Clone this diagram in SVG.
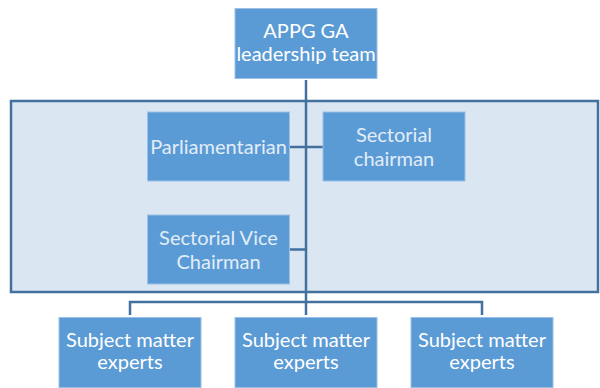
<svg xmlns="http://www.w3.org/2000/svg" width="600" height="388" viewBox="0 0 600 388">
  <style>
    .box { fill: #5B9BD5; stroke: #9DC0E6; stroke-width: 1; }
    .lbl { font-family: "Lato", "Open Sans", "Liberation Sans", sans-serif; font-size: 20px; fill: #FFFFFF; text-anchor: middle; }
    .inner { fill: #E2EDF8; }
    .link { fill: none; stroke: #41719C; stroke-width: 2.5; }
  </style>

  <!-- shaded frame around the core group -->
  <rect id="frame" x="11" y="101" width="587" height="191" fill="#DAE6F2" stroke="#41719C" stroke-width="2.5"/>

  <g id="connectors">
    <line class="link" x1="306" y1="80" x2="306" y2="315"/>
    <line class="link" x1="289" y1="147" x2="323" y2="147"/>
    <line class="link" x1="289" y1="249.5" x2="306" y2="249.5"/>
    <polyline class="link" points="130,315 130,302 482,302 482,315"/>
  </g>

  <g id="leadership">
    <rect class="box" x="235" y="8.5" width="142" height="70"/>
    <text class="lbl" x="306" y="38">APPG GA</text>
    <text class="lbl" x="306" y="60.5">leadership team</text>
  </g>

  <g id="parliamentarian">
    <rect class="box" x="147.5" y="112" width="142" height="69"/>
    <text class="lbl inner" x="218.5" y="153.5">Parliamentarian</text>
  </g>

  <g id="sectorial-chairman">
    <rect class="box" x="323" y="112" width="142" height="69"/>
    <text class="lbl inner" x="394" y="142">Sectorial</text>
    <text class="lbl inner" x="394" y="165.5">chairman</text>
  </g>

  <g id="sectorial-vice-chairman">
    <rect class="box" x="147.5" y="215" width="142" height="69"/>
    <text class="lbl inner" x="218.5" y="244.5">Sectorial Vice</text>
    <text class="lbl inner" x="218.5" y="268.5">Chairman</text>
  </g>

  <g id="experts-1">
    <rect class="box" x="59" y="317.5" width="142" height="70"/>
    <text class="lbl" x="130" y="347">Subject matter</text>
    <text class="lbl" x="130" y="369">experts</text>
  </g>

  <g id="experts-2">
    <rect class="box" x="235" y="317.5" width="142" height="70"/>
    <text class="lbl" x="306" y="347">Subject matter</text>
    <text class="lbl" x="306" y="369">experts</text>
  </g>

  <g id="experts-3">
    <rect class="box" x="411" y="317.5" width="142" height="70"/>
    <text class="lbl" x="482" y="347">Subject matter</text>
    <text class="lbl" x="482" y="369">experts</text>
  </g>
</svg>
